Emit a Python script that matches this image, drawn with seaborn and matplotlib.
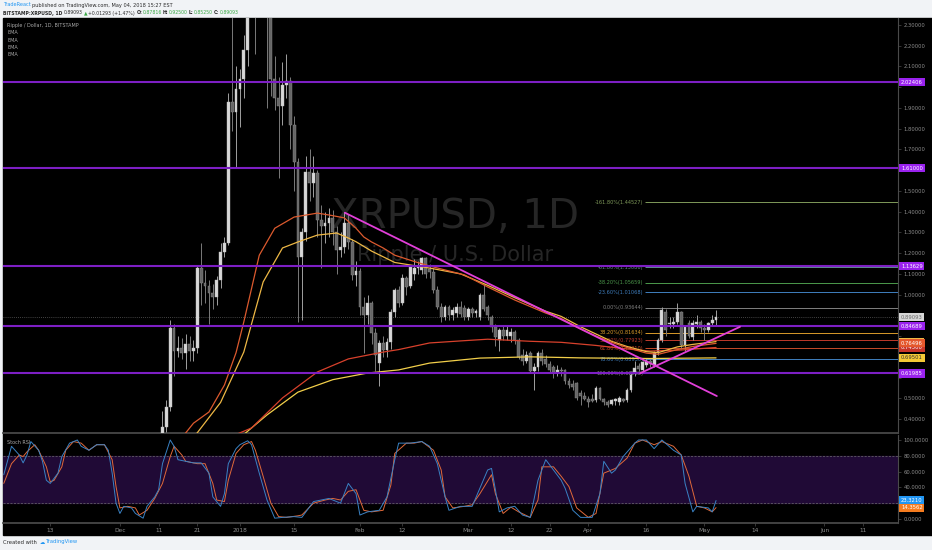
import numpy as np
import pandas as pd
import matplotlib
matplotlib.use('Agg')
import matplotlib.pyplot as plt
import matplotlib.dates as mdates
import matplotlib.transforms as mtransforms
from matplotlib.patches import Rectangle
import seaborn as sns

# day offsets are counted from 2018-01-01
BASE = pd.Timestamp('2018-01-01')

# daily candles, Dec 12 2017 .. May 4 2018
first_day = -20
opens = [0.25, 0.36, 0.46, 0.84, 0.73, 0.745, 0.72, 0.76, 0.73, 0.745,
         1.13, 1.055, 1.04, 1.01, 0.99, 1.07, 1.205, 1.25, 1.93, 1.88,
         1.99, 2.04, 2.18, 2.80, 3.05, 2.90, 2.95, 2.60, 2.40, 2.04,
         1.95, 1.91, 2.01, 2.03, 1.82, 1.64, 1.18, 1.30, 1.59, 1.54,
         1.585, 1.36, 1.33, 1.345, 1.37, 1.30, 1.215, 1.23, 1.345, 1.254,
         1.095, 1.115, 0.94, 0.90, 0.96, 0.815, 0.67, 0.767, 0.735, 0.77,
         0.916, 1.02, 0.96, 1.08, 1.04, 1.10, 1.13, 1.12, 1.177, 1.125,
         1.11, 1.022, 0.94, 0.892, 0.94, 0.90, 0.91, 0.94, 0.935, 0.89,
         0.93, 0.91, 0.89, 1.00, 0.94, 0.89, 0.844, 0.78, 0.83, 0.80,
         0.80, 0.82, 0.78, 0.71, 0.68, 0.72, 0.63, 0.65, 0.72, 0.69,
         0.665, 0.65, 0.625, 0.635, 0.635, 0.585, 0.57, 0.575, 0.525, 0.51,
         0.495, 0.495, 0.49, 0.55, 0.495, 0.48, 0.475, 0.485, 0.48, 0.495,
         0.49, 0.54, 0.62, 0.655, 0.637, 0.66, 0.68, 0.661, 0.719, 0.781,
         0.916, 0.86, 0.86, 0.868, 0.916, 0.757, 0.863, 0.796, 0.86, 0.868,
         0.84, 0.829, 0.863, 0.87816]
highs = [0.44, 0.49, 0.88, 0.86, 0.80, 0.79, 0.81, 0.80, 0.78, 1.14,
         1.25, 1.12, 1.07, 1.05, 1.09, 1.25, 1.28, 1.97, 2.40, 2.10,
         2.09, 2.25, 3.10, 3.40, 3.30, 3.20, 3.10, 2.80, 2.50, 2.15,
         2.05, 2.12, 2.16, 2.05, 1.86, 1.66, 1.32, 1.67, 1.70, 1.67,
         1.60, 1.43, 1.40, 1.42, 1.41, 1.33, 1.30, 1.40, 1.39, 1.27,
         1.16, 1.13, 0.99, 1.00, 0.97, 0.84, 0.78, 0.80, 0.79, 0.93,
         1.03, 1.04, 1.10, 1.09, 1.14, 1.17, 1.16, 1.18, 1.18, 1.15,
         1.13, 1.04, 0.96, 0.95, 0.95, 0.94, 0.96, 0.97, 0.95, 0.94,
         0.94, 0.93, 1.01, 1.05, 0.95, 0.90, 0.86, 0.84, 0.85, 0.85,
         0.84, 0.83, 0.79, 0.74, 0.73, 0.73, 0.67, 0.73, 0.74, 0.71,
         0.68, 0.66, 0.66, 0.65, 0.64, 0.60, 0.59, 0.58, 0.54, 0.53,
         0.51, 0.52, 0.56, 0.555, 0.50, 0.49, 0.495, 0.50, 0.51, 0.50,
         0.55, 0.63, 0.68, 0.67, 0.68, 0.69, 0.69, 0.73, 0.79, 0.94,
         0.93, 0.89, 0.89, 0.96, 0.92, 0.85, 0.88, 0.88, 0.90, 0.88,
         0.86, 0.87, 0.90, 0.925]
lows = [0.24, 0.34, 0.44, 0.61, 0.70, 0.69, 0.64, 0.68, 0.68, 0.72,
        0.95, 0.96, 0.86, 0.93, 0.95, 1.03, 1.18, 1.24, 1.79, 1.61,
        1.81, 1.95, 2.10, 2.50, 2.16, 2.60, 2.45, 1.90, 1.96, 1.89,
        1.56, 1.82, 1.95, 1.70, 1.50, 0.87, 0.88, 1.26, 1.45, 1.47,
        1.28, 1.13, 1.25, 1.28, 1.24, 1.10, 1.18, 1.20, 1.22, 1.07,
        1.04, 0.90, 0.72, 0.86, 0.76, 0.63, 0.56, 0.70, 0.70, 0.74,
        0.89, 0.94, 0.95, 1.00, 1.03, 1.07, 1.10, 1.10, 1.08, 1.08,
        1.01, 0.93, 0.87, 0.88, 0.88, 0.88, 0.89, 0.89, 0.88, 0.88,
        0.89, 0.89, 0.88, 0.92, 0.88, 0.82, 0.75, 0.73, 0.78, 0.78,
        0.77, 0.76, 0.69, 0.66, 0.67, 0.62, 0.54, 0.63, 0.66, 0.65,
        0.62, 0.60, 0.61, 0.61, 0.57, 0.55, 0.54, 0.49, 0.47, 0.49,
        0.46, 0.48, 0.48, 0.49, 0.47, 0.46, 0.47, 0.47, 0.47, 0.48,
        0.48, 0.53, 0.61, 0.63, 0.63, 0.65, 0.65, 0.65, 0.71, 0.77,
        0.80, 0.84, 0.84, 0.86, 0.74, 0.73, 0.79, 0.78, 0.84, 0.82,
        0.78, 0.82, 0.85, 0.8525]
closes = [0.36, 0.46, 0.84, 0.73, 0.745, 0.72, 0.76, 0.73, 0.745, 1.13,
          1.055, 1.04, 1.01, 0.99, 1.07, 1.205, 1.25, 1.93, 1.88, 1.99,
          2.04, 2.18, 2.80, 3.05, 2.90, 2.95, 2.60, 2.40, 2.04, 1.95,
          1.91, 2.01, 2.03, 1.82, 1.64, 1.18, 1.30, 1.59, 1.54, 1.585,
          1.36, 1.33, 1.345, 1.37, 1.30, 1.215, 1.23, 1.345, 1.254, 1.095,
          1.115, 0.94, 0.90, 0.96, 0.815, 0.71, 0.767, 0.735, 0.77, 0.916,
          1.02, 0.96, 1.08, 1.035, 1.133, 1.13, 1.14, 1.177, 1.10, 1.11,
          1.022, 0.94, 0.892, 0.94, 0.90, 0.925, 0.94, 0.905, 0.89, 0.93,
          0.91, 0.92, 1.00, 0.93, 0.90, 0.844, 0.796, 0.83, 0.80, 0.83,
          0.82, 0.78, 0.70, 0.68, 0.71, 0.63, 0.65, 0.72, 0.68, 0.665,
          0.635, 0.627, 0.635, 0.63, 0.585, 0.565, 0.555, 0.502, 0.51, 0.495,
          0.48, 0.485, 0.55, 0.495, 0.48, 0.47, 0.49, 0.495, 0.50, 0.485,
          0.54, 0.612, 0.645, 0.64, 0.675, 0.68, 0.665, 0.719, 0.781, 0.926,
          0.829, 0.865, 0.87, 0.916, 0.757, 0.844, 0.80, 0.863, 0.868, 0.84,
          0.83, 0.863, 0.878, 0.89093]

# EMA lines (day offset, price)
ema_fast_red_days = [-15, -12, -8, -4, -1, 1, 5, 9, 14, 20, 23, 27, 30, 32, 34, 37, 40,
                     45, 49, 58, 64, 71, 79, 83, 88, 92, 96, 100, 105, 108, 113, 117, 123]
ema_fast_red = [0.31, 0.38, 0.434, 0.564, 0.72, 0.868, 1.19, 1.32, 1.374, 1.393, 1.384,
                1.37, 1.32, 1.278, 1.254, 1.225, 1.19, 1.16, 1.138, 1.095, 1.037, 0.974,
                0.911, 0.885, 0.835, 0.80, 0.77, 0.745, 0.718, 0.712, 0.735, 0.75, 0.76496]
ema_fast_yel_days = [-12, -5, 1, 6, 11, 15, 20, 25, 28, 30, 34, 40, 49, 57, 64, 71, 79,
                     83, 88, 92, 96, 100, 105, 108, 113, 117, 123]
ema_fast_yel = [0.31, 0.48, 0.723, 1.061, 1.225, 1.254, 1.287, 1.297, 1.273, 1.255, 1.21,
                1.155, 1.128, 1.10, 1.045, 0.985, 0.92, 0.895, 0.845, 0.81, 0.775, 0.75,
                0.725, 0.72, 0.748, 0.76, 0.7735]
ema_slow_red_days = [-3, 3, 11, 20, 28, 37, 41, 49, 58, 64, 75, 83, 92, 100, 106, 114, 123]
ema_slow_red = [0.31, 0.357, 0.502, 0.627, 0.69, 0.723, 0.735, 0.767, 0.778, 0.785, 0.775,
                0.77, 0.755, 0.738, 0.728, 0.733, 0.745]
ema_slow_yel_days = [0, 7, 15, 24, 33, 41, 49, 62, 75, 83, 88, 100, 106, 123]
ema_slow_yel = [0.31, 0.42, 0.53, 0.59, 0.622, 0.637, 0.67, 0.694, 0.70, 0.697, 0.695,
                0.693, 0.692, 0.69501]

# horizontal levels and the last price
levels = [2.02406, 1.61000, 1.13629, 0.84689, 0.61985]
last_price = 0.89093

# fibonacci extension
fib_names = ['-161.80%', '-61.80%', '-38.20%', '-23.60%', '0.00%',
             '38.20%', '50.00%', '61.80%', '78.60%', '100.00%']
fib_values = [1.44527, 1.13086, 1.05659, 1.01068, 0.93644,
              0.81634, 0.77923, 0.74210, 0.68930, 0.62202]
fib_colors = ['#7f9a5a', '#5f8f8f', '#4c9a4c', '#3f7fbf', '#808080',
              '#d89a2a', '#c0392b', '#c84b2a', '#3f7fbf', '#808080']
fib_start_day = 104.6

# trend lines
trend_down_days = [27.1, 123.2]
trend_down_prices = [1.395, 0.511]
trend_up_days = [103.4, 129.2]
trend_up_prices = [0.621, 0.845]

# Stoch RSI, K and D
k_days = [-61, -59, -57, -56, -55, -54, -52, -51, -50, -49, -47, -46, -44, -42, -41, -39,
          -37, -35, -34, -33, -32, -31, -30, -28, -27, -25, -24, -22, -21, -20, -18, -17,
          -16, -14, -12, -10, -8, -7, -5, -4, -3, -1, 0, 2, 3, 5, 7, 9, 11, 14, 16, 19,
          21, 23, 26, 28, 30, 31, 33, 36, 38, 40, 41, 44, 47, 49, 51, 53, 54, 57, 60, 62,
          64, 65, 66, 67, 69, 71, 73, 75, 77, 79, 81, 83, 84, 86, 88, 91, 93, 94, 96, 97,
          99, 102, 103, 105, 107, 109, 112, 114, 115, 117, 118, 121, 122, 123]
k_vals = [56, 92, 81, 71, 81, 98, 87, 73, 49, 45, 58, 79, 96, 100, 92, 87,
          94, 94, 87, 58, 20, 7, 16, 14, 7, 1, 16, 28, 37, 70, 100, 92,
          75, 73, 71, 71, 58, 28, 16, 32, 70, 89, 94, 99, 94, 58, 24, 1, 2, 3, 2, 22,
          24, 26, 20, 45, 32, 5, 9, 11, 28, 75, 96, 96, 98, 92, 70, 28, 11, 16, 16, 39,
          62, 64, 37, 9, 14, 16, 5, 2, 49, 75, 62, 49, 39, 11, 2, 2, 32, 73, 58, 62,
          79, 96, 100, 100, 89, 100, 87, 81, 45, 9, 16, 14, 9, 23.3210]
d_days = [-61, -59, -57, -56, -55, -53, -52, -50, -49, -48, -46, -45, -43, -41, -39, -37,
          -35, -33, -32, -31, -29, -27, -26, -24, -22, -20, -18, -17, -15, -14, -11, -9,
          -7, -6, -4, -3, -1, 1, 3, 4, 6, 8, 10, 12, 15, 16, 19, 22, 24, 26, 28, 30, 32,
          34, 37, 39, 40, 43, 45, 47, 50, 52, 53, 55, 58, 60, 62, 65, 66, 68, 70, 72, 75,
          77, 78, 81, 83, 85, 87, 90, 92, 94, 96, 97, 100, 102, 104, 107, 109, 112, 114,
          116, 118, 120, 122, 123]
d_vals = [45, 70, 81, 79, 85, 94, 87, 66, 47, 49, 66, 87, 98, 96, 87, 94,
          94, 75, 41, 14, 16, 14, 5, 11, 26, 45, 79, 92, 81, 73, 70, 70,
          45, 24, 22, 49, 83, 94, 98, 87, 54, 20, 3, 2, 4, 5, 20, 24, 26, 24, 35, 37, 11,
          9, 11, 43, 83, 96, 96, 98, 87, 62, 28, 14, 16, 18, 32, 56, 32, 7, 15, 9, 2,
          24, 66, 66, 54, 41, 14, 2, 7, 58, 62, 64, 77, 96, 100, 94, 98, 92, 81,
          54, 16, 14, 9, 14.3562]

tick_dates = ['2017-11-13', '2017-12-01', '2017-12-11', '2017-12-21', '2018-01-01',
              '2018-01-15', '2018-02-01', '2018-02-12', '2018-03-01', '2018-03-12',
              '2018-03-22', '2018-04-01', '2018-04-16', '2018-05-01', '2018-05-14',
              '2018-06-01', '2018-06-11']
tick_labels = ['13', 'Dec', '11', '21', '2018', '15', 'Feb', '12', 'Mar', '12',
               '22', 'Apr', '16', 'May', '14', 'Jun', '11']
price_ticks = np.round(np.arange(0.4, 2.31, 0.1), 1)
stoch_ticks = [0, 40, 60, 80, 100]

# ---------------------------------------------------------------------------
sns.set_theme(style='dark')
plt.rcParams['font.family'] = ['DejaVu Sans']

W, H = 932, 550
BG = '#f1f3f6'
GRID = '#4a4a4a'
AXTXT = '#8c8c8c'
BASE_NUM = mdates.date2num(BASE)


def dn(days):
    return BASE_NUM + np.asarray(days, dtype=float)


fig = plt.figure(figsize=(W / 100, H / 100), dpi=100, facecolor=BG)
fig.add_artist(Rectangle((3 / W, 1 - 535 / H), 1 - 3 / W, (535 - 18) / H,
                         transform=fig.transFigure, color='black', zorder=0))

ax = fig.add_axes([3 / W, 1 - 433 / H, 895 / W, 415 / H])
ax2 = fig.add_axes([3 / W, 1 - 523 / H, 895 / W, 88 / H], sharex=ax)
for a in (ax, ax2):
    a.set_facecolor('black')
    for s in a.spines.values():
        s.set_visible(False)
    a.spines['right'].set_visible(True)
    a.spines['right'].set_color(GRID)
    a.spines['right'].set_linewidth(0.8)
    a.grid(False)
ax.spines['bottom'].set_visible(True)
ax.spines['bottom'].set_color(GRID)
ax2.spines['bottom'].set_visible(True)
ax2.spines['bottom'].set_color(GRID)

ax.set_xlim(dn(-61.2), dn(170.0))
ax.set_ylim(0.3328, 2.3338)
ax2.set_ylim(-5.1, 106.3)

# watermark
ax.text(0.505, 0.52, 'XRPUSD, 1D', transform=ax.transAxes, ha='center', va='center',
        fontsize=29, color='#262626', zorder=1)
ax.text(0.505, 0.43, 'Ripple / U.S. Dollar', transform=ax.transAxes, ha='center',
        va='center', fontsize=15, color='#262626', zorder=1)

# candles
o, h, l, c = (np.array(v) for v in (opens, highs, lows, closes))
cx = dn(np.arange(first_day, first_day + len(closes)))
up = c >= o
ax.vlines(cx, l, h, colors=np.where(up, '#a0a0a0', '#7a7a7a'), linewidth=0.7, zorder=3)
body_low = np.minimum(o, c)
body_h = np.maximum(np.abs(c - o), 0.004)
ax.bar(cx[up], body_h[up], bottom=body_low[up], width=0.72, color='#d8d8d8',
       edgecolor='#bdbdbd', linewidth=0.3, zorder=4)
ax.bar(cx[~up], body_h[~up], bottom=body_low[~up], width=0.72, color='#666666',
       edgecolor='#8c8c8c', linewidth=0.3, zorder=4)

# EMAs
ema_sets = [(ema_slow_yel_days, ema_slow_yel, '#f2cf4a'),
            (ema_slow_red_days, ema_slow_red, '#d8412c'),
            (ema_fast_yel_days, ema_fast_yel, '#eeb845'),
            (ema_fast_red_days, ema_fast_red, '#dc5a2e')]
for days, vals, col in ema_sets:
    sns.lineplot(x=dn(days), y=vals, ax=ax, color=col, linewidth=0.9, legend=False, zorder=5)

# last price dotted line
ax.axhline(last_price, color='#5a5a5a', linewidth=0.6, linestyle=(0, (1, 1.5)), zorder=2)

# fib levels
for name, val, col in zip(fib_names, fib_values, fib_colors):
    ax.hlines(val, dn(fib_start_day), dn(170.0), colors=col, linewidth=0.7, zorder=2)
    ax.text(dn(fib_start_day - 0.4), val, f'{name}({val:.5f})', ha='right', va='center',
            fontsize=3.6, color=col, zorder=2)

# purple levels
for lv in levels:
    ax.axhline(lv, color='#7d1fc4', linewidth=1.5, zorder=6)

# trend lines
ax.plot(dn(trend_down_days), trend_down_prices, color='#e23fd9', linewidth=1.3, zorder=7)
ax.plot(dn(trend_up_days), trend_up_prices, color='#e23fd9', linewidth=1.3, zorder=7)

# legend block top-left
ax.text(0.0045, 0.983, 'Ripple / Dollar, 1D, BITSTAMP', transform=ax.transAxes,
        fontsize=3.5, color='#a8a8a8', va='center')
for yy in (0.964, 0.945, 0.928, 0.911):
    ax.text(0.0045, yy, 'EMA', transform=ax.transAxes, fontsize=3.5, color='#a8a8a8',
            va='center')

# value boxes on the price axis
price_labels = [(levels[0], '#9a22ee', 'white'), (levels[1], '#9a22ee', 'white'),
                (levels[2], '#9a22ee', 'white'), (last_price, '#d6d6d6', '#6a6a6a'),
                (levels[3], '#9a22ee', 'white'),
                (ema_fast_yel[-1], '#eeb845', 'white'),
                (ema_slow_red[-1], '#c8362a', 'white'),
                (ema_fast_red[-1], '#e4572c', 'white'),
                (ema_slow_yel[-1], '#f4c935', '#333333'),
                (levels[4], '#9a22ee', 'white')]

# price axis: tick labels covered by a value box are not shown
box_vals = np.array([v for v, _, _ in price_labels])
shown = [p for p in price_ticks if np.min(np.abs(box_vals - p)) > 0.032]
ax.yaxis.tick_right()
ax.set_yticks(price_ticks)
ax.set_yticklabels([f'{p:.5f}' if p in shown else '' for p in price_ticks])
ax.tick_params(axis='y', right=True, left=False, length=2, width=0.5, color=GRID,
               labelsize=3.8, labelcolor=AXTXT, pad=2)
ax.tick_params(axis='x', bottom=False, labelbottom=False)

lab = mtransforms.blended_transform_factory(ax.transAxes, ax.transData)
for val, fc, tc in price_labels:
    ax.text(1.0034, val, f'{val:.5f}', transform=lab, ha='left', va='center',
            fontsize=3.8, color=tc, clip_on=False, zorder=10,
            bbox=dict(boxstyle='square,pad=0.3', fc=fc, ec='none'))

# Stoch RSI panel
ax2.axhspan(20, 80, color='#200a36', zorder=1)
for lv in (80, 20):
    ax2.axhline(lv, color='#6e6e6e', linewidth=0.5, linestyle=(0, (3, 2)), zorder=2)
sns.lineplot(x=dn(d_days), y=d_vals, ax=ax2, color='#e0693a', linewidth=0.7,
             legend=False, zorder=3)
sns.lineplot(x=dn(k_days), y=k_vals, ax=ax2, color='#3a82c4', linewidth=0.7,
             legend=False, zorder=4)
ax2.text(0.0045, 0.92, 'Stoch RSI', transform=ax2.transAxes, fontsize=3.5,
         color='#a8a8a8', va='center')
ax2.yaxis.tick_right()
ax2.set_yticks(stoch_ticks)
ax2.set_yticklabels([f'{v:.4f}' for v in stoch_ticks])
ax2.tick_params(axis='y', right=True, left=False, length=2, width=0.5, color=GRID,
                labelsize=3.8, labelcolor=AXTXT, pad=2)
lab2 = mtransforms.blended_transform_factory(ax2.transAxes, ax2.transData)
for val, fc in ((k_vals[-1], '#2196f3'), (d_vals[-1], '#f57c1f')):
    ax2.text(1.0034, val, f'{val:.4f}', transform=lab2, ha='left', va='center',
             fontsize=3.8, color='white', clip_on=False, zorder=10,
             bbox=dict(boxstyle='square,pad=0.3', fc=fc, ec='none'))

ax2.set_xticks(mdates.date2num(pd.to_datetime(tick_dates)))
ax2.set_xticklabels(tick_labels)
ax2.tick_params(axis='x', bottom=True, length=2, width=0.5, color=GRID,
                labelsize=4.2, labelcolor=AXTXT, pad=1.5)
ax2.set_xlabel('')
ax2.set_ylabel('')
ax.set_ylabel('')
ax.set_xlabel('')

# header and footer text runs
renderer = fig.canvas.get_renderer()


def text_run(x_px, y_px, pieces, size):
    x = x_px
    for s, col, wt, gap in pieces:
        t = fig.text(x / W, 1 - y_px / H, s, color=col, fontsize=size, fontweight=wt,
                     va='center', ha='left')
        x += t.get_window_extent(renderer).width + gap


GREEN = '#3aa845'
DARK = '#2a2a2a'
text_run(3, 5, [('TradeReact', '#2196f3', 'normal', 1.2),
                ('published on TradingView.com, May 04, 2018 15:27 EST', DARK, 'normal', 0)],
         3.6)
text_run(3, 13, [('BITSTAMP:XRPUSD, 1D', DARK, 'bold', 1.4),
                 ('0.89093', DARK, 'normal', 1.0),
                 ('\u25b2', GREEN, 'normal', 1.0),
                 ('+0.01293 (+1.47%)', DARK, 'normal', 1.4),
                 ('O:', DARK, 'bold', 0.2), ('0.87816', GREEN, 'normal', 1.2),
                 ('H:', DARK, 'bold', 0.2), ('0.92500', GREEN, 'normal', 1.2),
                 ('L:', DARK, 'bold', 0.2), ('0.85250', GREEN, 'normal', 1.2),
                 ('C:', DARK, 'bold', 0.2), ('0.89093', GREEN, 'normal', 0)],
         3.35)
text_run(3, 542, [('Created with', DARK, 'normal', 2.5),
                  ('\u2601', '#2196f3', 'normal', 1.5),
                  ('TradingView', '#2196f3', 'normal', 0)], 3.8)

fig.savefig('out.png', dpi=100, facecolor=BG)
